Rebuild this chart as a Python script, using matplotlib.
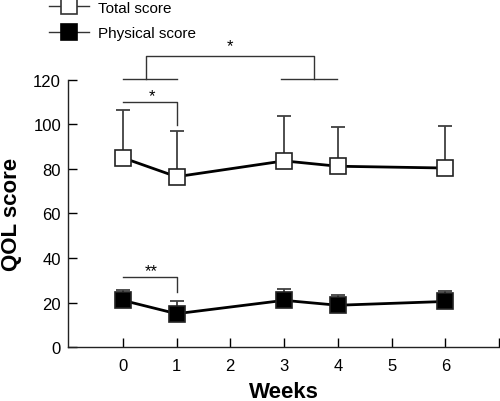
import matplotlib
matplotlib.use("Agg")
import matplotlib.pyplot as plt
from matplotlib.lines import Line2D

plt.rcParams['font.family'] = ['Liberation Sans', 'DejaVu Sans']

weeks = [0, 1, 3, 4, 6]
total_mean = [85.0, 76.5, 83.6, 81.2, 80.4]
total_sd = [21.5, 20.7, 20.2, 17.4, 18.8]
phys_mean = [21.0, 15.0, 21.0, 18.8, 20.5]
phys_sd = [4.5, 5.6, 5.2, 4.6, 4.8]
xticks = [0, 1, 2, 3, 4, 5, 6, 7]
xticklabels = ['0', '1', '2', '3', '4', '5', '6', '']
yticks = [0, 20, 40, 60, 80, 100, 120]

fig = plt.figure(figsize=(5.0, 4.02), dpi=100)
ax = fig.add_axes([0.136, 0.134, 0.862, 0.665])

err_col = '#404040'
for mean, sd, fc in [(total_mean, total_sd, 'white'), (phys_mean, phys_sd, 'black')]:
    ax.errorbar(weeks, mean, yerr=[[0] * len(sd), sd], fmt='none', ecolor=err_col,
                elinewidth=1.3, capsize=5, capthick=1.3, zorder=2)
    ax.plot(weeks, mean, color='black', lw=2, marker='s', ms=11, mfc=fc,
            mec='#222222', mew=1.2, zorder=3)

ax.set_xlim(-1.02, 7.0)
ax.set_ylim(0, 120)
ax.set_xticks(xticks)
ax.set_xticklabels(xticklabels)
ax.set_yticks(yticks)
ax.tick_params(direction='in', length=6.5, width=1, labelsize=12, colors='black', pad=5)
ax.tick_params(axis='x', pad=7.5)
for s in ['top', 'right']:
    ax.spines[s].set_visible(False)
for s in ['left', 'bottom']:
    ax.spines[s].set_linewidth(1)
    ax.spines[s].set_color('#222222')

ax.set_xlabel('Weeks', fontsize=16, fontweight='bold', labelpad=6)
ax.set_ylabel('QOL score', fontsize=16, fontweight='bold', labelpad=8)

bc = '#333333'
kw = dict(color=bc, lw=1, clip_on=False)
# bracket total 0-1
ax.plot([0, 1, 1], [110.2, 110.2, 99.8], **kw)
ax.text(0.55, 113, '*', ha='center', va='center', fontsize=12)
# physical 0-1
ax.plot([0, 1, 1], [31.3, 31.3, 24.6], **kw)
ax.text(0.53, 34.5, '**', ha='center', va='center', fontsize=12)
# top comparison
ax.plot([0, 1], [120.4, 120.4], **kw)
ax.plot([2.95, 3.98], [120.4, 120.4], **kw)
ax.plot([0.44, 0.44, 3.56, 3.56], [120.4, 130.5, 130.5, 120.4], **kw)
ax.text(1.99, 135.5, '*', ha='center', va='center', fontsize=12)

handles = [
    Line2D([], [], color='#333333', lw=1, marker='s', ms=11, mfc='white', mec='#333333', mew=1.2),
    Line2D([], [], color='#333333', lw=1, marker='s', ms=11, mfc='black', mec='black', mew=1.2),
]
fig.legend(handles, ['Total score', 'Physical score'], loc='upper left',
           bbox_to_anchor=(0.071, 1.03), frameon=False, fontsize=11,
           handlelength=2.6, handletextpad=0.6, labelspacing=0.75)

fig.savefig('out.png', dpi=100)
